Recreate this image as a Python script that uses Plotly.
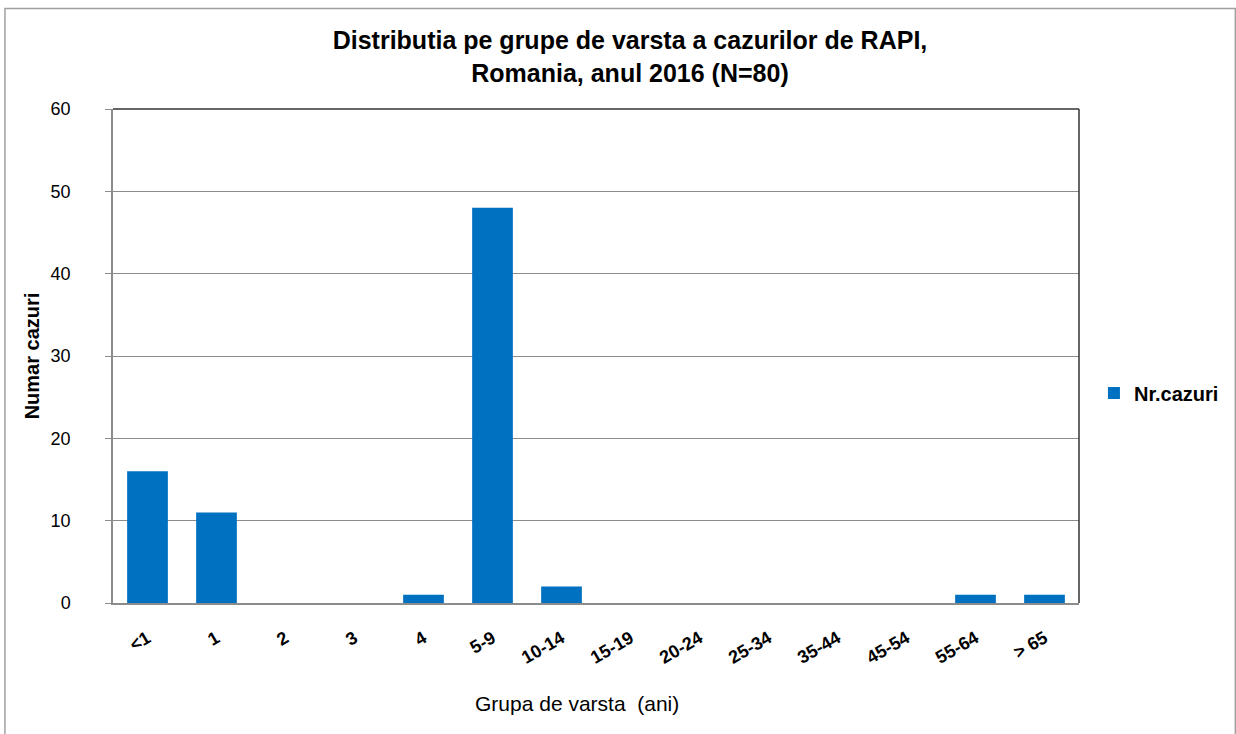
import plotly.graph_objects as go

categories = ["<1", "1", "2", "3", "4", "5-9", "10-14", "15-19", "20-24", "25-34", "35-44", "45-54", "55-64", "> 65"]
cases = [16, 11, 0, 0, 1, 48, 2, 0, 0, 0, 0, 0, 1, 1]
y_ticks = [0, 10, 20, 30, 40, 50, 60]

W, H = 1236, 734
L, R, T, B = 113, 1083, 109, 603
pw, ph = R - L, B - T

def px(x):
    return (x - L) / pw

def py(y):
    return (B - y) / ph

font = "Liberation Sans, Arial, sans-serif"

fig = go.Figure()
fig.add_trace(go.Bar(
    x=categories, y=cases, name="Nr.cazuri",
    marker=dict(color="#0070C0", line=dict(width=0)),
    showlegend=True,
))

fig.update_layout(
    width=W, height=H,
    margin=dict(l=L, r=W - R, t=T, b=H - B),
    paper_bgcolor="white", plot_bgcolor="white",
    font=dict(family=font, color="black"),
    bargap=0.41,
    title=dict(
        text="<b>Distributia pe grupe de varsta a cazurilor de RAPI,<br>Romania, anul 2016 (N=80)</b>",
        x=630 / W, xanchor="center", y=1 - 49 / H, yanchor="middle",
        font=dict(size=25, family=font, color="black"),
    ),
    legend=dict(
        x=px(1098), xanchor="left", y=py(393), yanchor="middle",
        font=dict(size=20, family=font, color="black", weight="bold"),
        itemwidth=30, bgcolor="rgba(0,0,0,0)",
    ),
    xaxis=dict(
        type="category",
        tickangle=-30,
        tickfont=dict(size=18, family=font, color="black", weight="bold"),
        ticklabelstandoff=16,
        showline=True, linecolor="#8c8c8c", linewidth=1.5,
        showgrid=False, ticks="",
    ),
    yaxis=dict(
        range=[0, 60], tickvals=y_ticks,
        tickfont=dict(size=18, family=font, color="black"),
        showline=True, linecolor="#8c8c8c", linewidth=1.5,
        showgrid=True, gridcolor="#8c8c8c", gridwidth=1,
        ticks="outside", ticklen=6, tickcolor="#8c8c8c",
        ticklabelstandoff=31,
        zeroline=False,
        title=dict(text="<b>Numar cazuri</b>", font=dict(size=20, family=font, color="black"), standoff=6),
    ),
    annotations=[dict(
        text="Grupa de varsta  (ani)", xref="paper", yref="paper",
        x=px(579), y=py(703), xanchor="center", yanchor="middle",
        showarrow=False, font=dict(size=21, family=font, color="black"),
    )],
)

# plot frame: top and right darker lines
fig.add_shape(type="line", xref="paper", yref="paper", x0=0, x1=1, y0=1, y1=1,
              line=dict(color="#333333", width=1.5))
fig.add_shape(type="line", xref="paper", yref="paper", x0=1, x1=1, y0=0, y1=1,
              line=dict(color="#333333", width=1.5))
# outer chart border
fig.add_shape(type="rect", xref="paper", yref="paper",
              x0=px(4.5), x1=px(1240), y0=py(740), y1=py(8.5),
              line=dict(color="#a0a0a0", width=1.5), fillcolor="rgba(0,0,0,0)", layer="below")

fig.write_html("out.html", config={"displayModeBar": False},
               post_script="document.body.style.margin='0';document.body.style.overflow='hidden';")
